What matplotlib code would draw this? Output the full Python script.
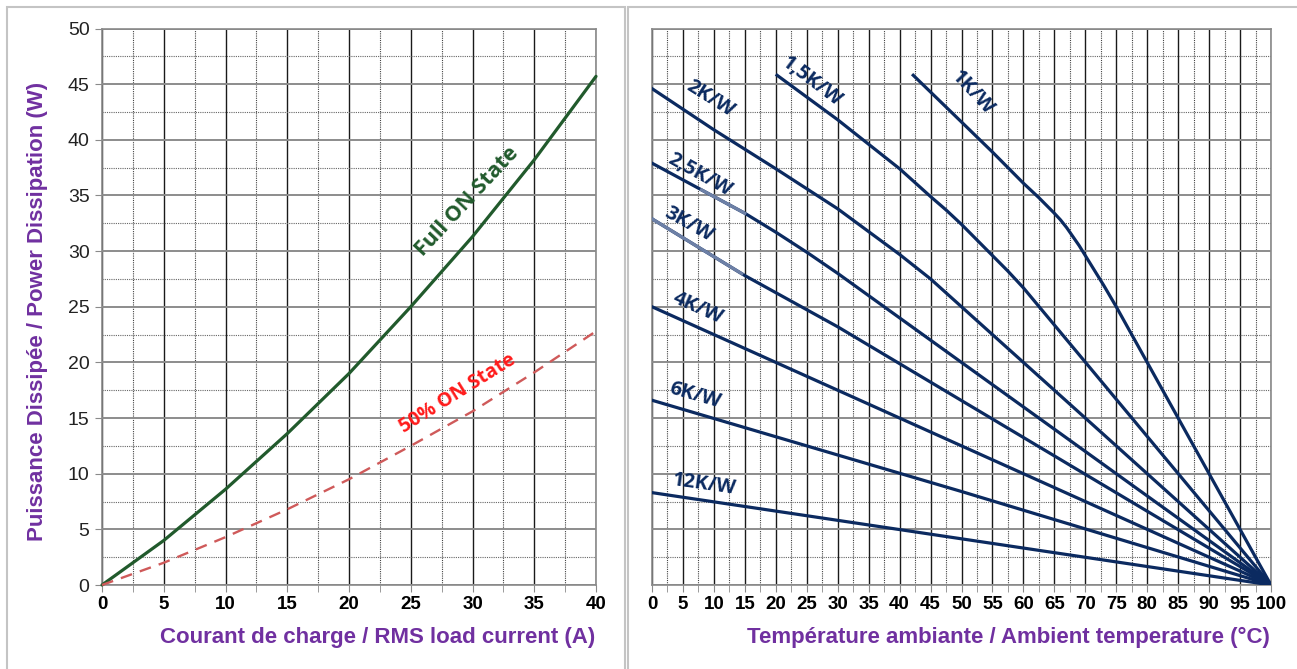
import numpy as np
import matplotlib
matplotlib.use("Agg")
import matplotlib.pyplot as plt
from matplotlib.patches import Rectangle
from matplotlib.ticker import MultipleLocator

# ---------------- data ----------------
current = [0, 5, 10, 15, 20, 25, 30, 35, 40]
full_on = [0, 4.0, 8.6, 13.6, 19.0, 25.0, 31.3, 38.2, 45.7]
half_on = [0, 2.0, 4.3, 6.8, 9.5, 12.5, 15.6, 19.1, 22.8]

t_1kw = [42.2, 50, 55, 60, 62.5, 65, 66, 67, 68, 69, 70, 71, 72, 73, 75, 100]
p_1kw = [45.8, 41.6, 38.9, 36.1, 34.8, 33.4, 32.8, 32.1, 31.3, 30.5, 29.6, 28.7, 27.8, 26.9, 25.0, 0]
t_15kw = [20.2, 30, 40, 45, 47.5, 50, 52.5, 55, 57.5, 60, 100]
p_15kw = [45.8, 41.8, 37.4, 34.9, 33.7, 32.4, 31.0, 29.6, 28.2, 26.7, 0]
t_2kw = [0, 10, 20, 30, 40, 45, 100]
p_2kw = [44.6, 40.9, 37.4, 33.8, 29.7, 27.5, 0]
t_25kw = [0, 10, 15, 20, 25, 30, 100]
p_25kw = [37.9, 34.9, 33.4, 31.7, 29.9, 28.0, 0]
t_3kw = [0, 15, 30, 100]
p_3kw = [32.9, 27.8, 23.2, 0]
t_4kw = [0, 100]
p_4kw = [25.0, 0]
t_6kw = [0, 50, 100]
p_6kw = [16.6, 8.4, 0]
t_12kw = [0, 100]
p_12kw = [8.3, 0]

rth_labels = ["1K/W", "1,5K/W", "2K/W", "2,5K/W", "3K/W", "4K/W", "6K/W", "12K/W"]

left_xticks = list(range(0, 45, 5))
left_yticks = list(range(0, 55, 5))
right_xticks = list(range(0, 105, 5))

# ---------------- style ----------------
W, H = 1297, 669
fig = plt.figure(figsize=(W / 100, H / 100), dpi=100)
fig.patch.set_facecolor("white")

def fx(px):
    return px / W

def fy(py):
    return 1 - py / H

purple = "#7030a0"
navy = "#0b2a60"
green = "#215a2c"
red_dash = "#cf5a5a"

# panel frames
fig.add_artist(Rectangle((fx(7), fy(700)), fx(625) - fx(7), fy(7) - fy(700),
                         transform=fig.transFigure, fill=False, ec="#c4c4c4", lw=1.5))
fig.add_artist(Rectangle((fx(628), fy(700)), fx(1320) - fx(628), fy(7) - fy(700),
                         transform=fig.transFigure, fill=False, ec="#c4c4c4", lw=1.5))

ax1 = fig.add_axes([fx(102), fy(585), fx(596) - fx(102), fy(28.5) - fy(585)])
ax2 = fig.add_axes([fx(652), fy(585), fx(1271) - fx(652), fy(28.5) - fy(585)])

def style_grid(ax, xmax, xticks):
    ax.set_xlim(0, xmax)
    ax.set_ylim(0, 50)
    ax.xaxis.set_major_locator(MultipleLocator(5))
    ax.xaxis.set_minor_locator(MultipleLocator(2.5))
    ax.yaxis.set_major_locator(MultipleLocator(5))
    ax.yaxis.set_minor_locator(MultipleLocator(2.5))
    ax.grid(False)
    ax.xaxis.grid(True, which="major", color="#1a1a1a", lw=1.0, zorder=0)
    ax.yaxis.grid(True, which="major", color="#8c8c8c", lw=1.4, zorder=0)
    ax.xaxis.grid(True, which="minor", color="#444444", lw=0.8, ls=(0, (1, 1)), zorder=0)
    ax.yaxis.grid(True, which="minor", color="#666666", lw=0.8, ls=(0, (1, 1)), zorder=0)
    ax.set_axisbelow(True)
    for s in ax.spines.values():
        s.set_color("#8a8a8a")
        s.set_linewidth(1.2)
    ax.tick_params(axis="x", which="both", direction="out", length=5, color="#8a8a8a", pad=3)
    ax.tick_params(axis="y", which="both", direction="out", length=5, color="#8a8a8a", pad=4)
    ax.tick_params(axis="y", which="minor", length=0)
    ax.set_xticks(xticks)
    ax.set_xticklabels([str(v) for v in xticks],
                       fontdict=dict(family=["Liberation Sans Narrow", "Liberation Sans"],
                                     weight="bold", size=13.5))

style_grid(ax1, 40, left_xticks)
ax1.set_yticks(left_yticks)
ax1.set_yticklabels([str(v) for v in left_yticks],
                    fontdict=dict(family="Liberation Sans", size=14, color="#222222"))

style_grid(ax2, 100, right_xticks)
ax2.set_yticklabels([])
ax2.tick_params(axis="y", which="both", length=0)

# ---------------- left panel ----------------
ax1.plot(current, full_on, color=green, lw=2.3, solid_capstyle="round", zorder=3, clip_on=False)
ax1.plot(current, half_on, color=red_dash, lw=1.7, ls=(0, (5, 3.5)), zorder=3, clip_on=False)
ax1.text(29.6, 34.4, "Full ON State", rotation=47, color=green, fontsize=15.5,
         family="Open Sans", weight="bold", ha="center", va="center", rotation_mode="anchor")
ax1.text(28.8, 17.2, "50% ON State", rotation=32, color="#ff1a1a", fontsize=14,
         family="Open Sans", weight="bold", ha="center", va="center", rotation_mode="anchor")

# ---------------- right panel ----------------
series = [(t_1kw, p_1kw), (t_15kw, p_15kw), (t_2kw, p_2kw), (t_25kw, p_25kw),
          (t_3kw, p_3kw), (t_4kw, p_4kw), (t_6kw, p_6kw), (t_12kw, p_12kw)]
for t, p in series:
    ax2.plot(t, p, color=navy, lw=2.3, zorder=3, solid_joinstyle="round")

# lighter segments visible in the reference
light = "#6d80a6"
for (t, p), (a, b) in [((t_25kw, p_25kw), (8, 15)), ((t_3kw, p_3kw), (0, 14.5))]:
    tt = np.linspace(a, b, 20)
    ax2.plot(tt, np.interp(tt, t, p), color=light, lw=2.3, zorder=4)

label_pos = [(51.7, 44.2, -47), (25.8, 45.2, -37), (9.4, 43.7, -32), (7.7, 36.8, -29),
             (6.0, 32.4, -29), (7.4, 24.9, -24), (6.9, 17.0, -16), (8.4, 9.0, -8)]
for lab, (x, y, r) in zip(rth_labels, label_pos):
    ax2.text(x, y, lab, rotation=r, color=navy, fontsize=14.5, family="Open Sans",
             weight="bold", ha="center", va="center", rotation_mode="anchor", zorder=5)

# ---------------- axis labels ----------------
lab_font = dict(family="Liberation Sans", weight="bold", color=purple, fontsize=16)
fig.text(fx(595), fy(637), "Courant de charge / RMS load current (A)", ha="right", va="center", **lab_font)
fig.text(fx(1270), fy(637), "Température ambiante / Ambient temperature (°C)", ha="right", va="center", **lab_font)
fig.text(fx(38), fy(311), "Puissance Dissipée / Power Dissipation (W)", rotation=90,
         ha="center", va="center", **lab_font)

fig.savefig("out.png", dpi=100)
